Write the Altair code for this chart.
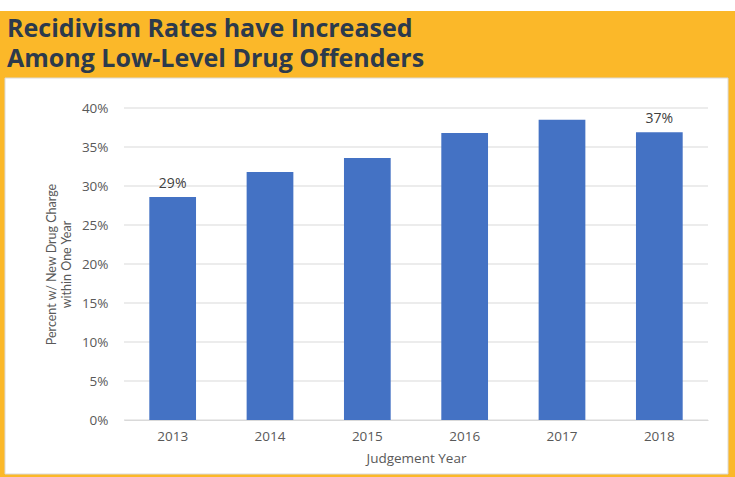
import altair as alt
import pandas as pd

years = ["2013", "2014", "2015", "2016", "2017", "2018"]
rates = [0.286, 0.318, 0.336, 0.368, 0.385, 0.369]
labels = ["29%", "", "", "", "", "37%"]
y_ticks = [0, 0.05, 0.1, 0.15, 0.2, 0.25, 0.3, 0.35, 0.4]

title_lines = ["Recidivism Rates have Increased", "Among Low-Level Drug Offenders"]
y_title = ["Percent w/ New Drug Charge", "within One Year"]
x_title = "Judgement Year"

df = pd.DataFrame({"year": years, "rate": rates, "label": labels})
grid_df = pd.DataFrame({"v": y_ticks})

W, H = 584, 312
PL, PT, PR, PB = 124, 108, 27, 57

one = alt.Data(values=[{}])
topstrip = alt.Chart(one).mark_rect(fill="white").encode(
    x=alt.value(-PL), x2=alt.value(735 - PL),
    y=alt.value(-PT), y2=alt.value(11 - PT),
)
panel = alt.Chart(one).mark_rect(
    fill="white", stroke="#DADADA", strokeWidth=1
).encode(
    x=alt.value(5 - PL), x2=alt.value(728 - PL),
    y=alt.value(78 - PT), y2=alt.value(474 - PT),
)
title = alt.Chart(one).mark_text(
    align="left", baseline="alphabetic", font="Open Sans", fontSize=25,
    fontWeight="bold", color="#2C3A4C", lineHeight=30,
).encode(
    x=alt.value(7 - PL), y=alt.value(37 - PT), text=alt.value(title_lines)
)

yscale = alt.Scale(domain=[0, 0.4])
yaxis = alt.Axis(format=".0%", values=y_ticks, grid=False, labelOverlap=False,
                 tickCount=9, ticks=False, domain=False, labelPadding=16,
                 titlePadding=8, zindex=1, titleFont="Lato", titleFontSize=12.5)
grid = alt.Chart(grid_df).mark_rule(color="#D9D9D9", strokeWidth=1).encode(
    y=alt.Y("v:Q", title=y_title, scale=yscale, axis=yaxis)
)

base = alt.Chart(df)
bars = base.mark_bar(color="#4472C4").encode(
    x=alt.X("year:N", title=x_title,
            scale=alt.Scale(paddingInner=0.52, paddingOuter=0.26),
            axis=alt.Axis(labelAngle=0, ticks=False, labelPadding=9,
                          domainColor="#D9D9D9", titlePadding=9, zindex=1)),
    y=alt.Y("rate:Q", title=y_title, scale=yscale, axis=yaxis),
)
text = base.mark_text(baseline="bottom", dy=-6, fontSize=14, color="#404040", font="Open Sans").encode(
    x="year:N", y="rate:Q", text="label:N"
)

chart = alt.layer(topstrip, panel, title, grid, bars, text).properties(
    width=W, height=H,
    padding={"left": PL, "top": PT, "right": PR, "bottom": PB},
    autosize=alt.AutoSizeParams(type="none"),
    background="#FBB829",
).configure_view(stroke=None).configure_axis(
    labelFont="Open Sans", labelFontSize=13.5, labelColor="#595959",
    titleFont="Open Sans", titleFontSize=13.5, titleColor="#595959", titleFontWeight="normal",
    labelOverlap=False,
).configure_axisY(labelOverlap=False)

chart.save("out.html", embed_options={"renderer": "svg", "actions": False})
